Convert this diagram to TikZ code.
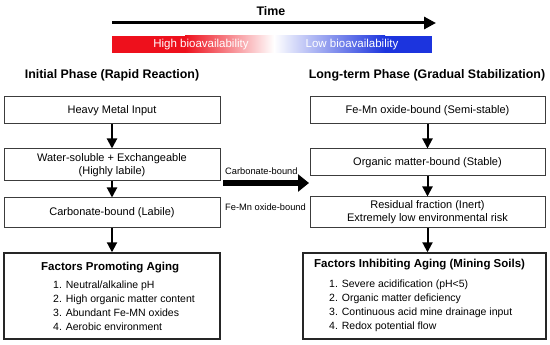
\documentclass[tikz,border=0pt]{standalone}
\usepackage{fontspec}
\setmainfont{Liberation Sans}
\usetikzlibrary{arrows.meta, positioning, calc}
\usepackage{xcolor}
\definecolor{highbio}{RGB}{238,16,28}
\definecolor{lowbio}{RGB}{28,52,222}
\definecolor{boxline}{RGB}{60,60,60}

\begin{document}
\begin{tikzpicture}[x=1pt, y=-1pt,
    stage/.style={draw=boxline, line width=1pt, align=center, inner sep=0pt,
      font=\fontsize{11}{13}\selectfont},
    factorbox/.style={draw=black!85, line width=1.4pt, inner sep=0pt},
    phase/.style={font=\bfseries\fontsize{12.4}{14}\selectfont},
    factortitle/.style={anchor=west, font=\bfseries\fontsize{11.5}{13}\selectfont,
      text height=8.5pt, text depth=2.5pt, inner sep=0pt},
    factoritem/.style={anchor=west, font=\fontsize{10.5}{12}\selectfont,
      text height=7.8pt, text depth=2.3pt, inner sep=0pt},
    flow/.style={-{Triangle[length=10pt,width=10pt]}, line width=2pt},
    barlabel/.style={white, font=\fontsize{11.5}{13}\selectfont},
    shiftlabel/.style={anchor=west, font=\fontsize{9.3}{11}\selectfont, inner sep=0pt}]
  \useasboundingbox (0,0) rectangle (550,345);
  % Time axis
  \coordinate (tstart) at (112,23);
  \coordinate (tend) at (436,23);
  \draw[line width=3pt, -{Triangle[length=12pt,width=12pt]}] (tstart) -- (tend);
  \node[font=\bfseries\fontsize{12.4}{14}\selectfont] (time) at (271,11) {Time};
  % Bioavailability bar (solid ends, faded middle)
  \fill[highbio] (112,36) rectangle (185,53);
  \shade[left color=highbio, right color=white] (185,36) rectangle (274,53);
  \shade[left color=white, right color=lowbio] (274,36) rectangle (385,53);
  \fill[lowbio] (385,36) rectangle (432,53);
  \node[barlabel] (high) at (201,45) {High bioavailability};
  \node[barlabel] (low) at (352,45) {Low bioavailability};
  % Phase titles
  \node[phase] (initial) at (112,75) {Initial Phase (Rapid Reaction)};
  \node[phase] (longterm) at (427,75) {Long-term Phase (Gradual Stabilization)};
  % Initial phase column
  \node[stage, minimum width=216pt, minimum height=27pt] (input) at (112,110.5) {Heavy Metal Input};
  \node[stage, minimum width=216pt, minimum height=32pt] (labile) at (112,165) {Water-soluble + Exchangeable\\(Highly labile)};
  \node[stage, minimum width=216pt, minimum height=30pt] (carb) at (112,213) {Carbonate-bound (Labile)};
  \node[factorbox, minimum width=216pt, minimum height=86pt] (promote) at (112,296) {};
  \node[factortitle] (promtitle) at (41,267) {Factors Promoting Aging};
  \foreach \t [count=\i] in {{Neutral/alkaline pH}, {High organic matter content},
      {Abundant Fe-MN oxides}, {Aerobic environment}}
    \node[factoritem] (prom\i) at (53,272+14*\i) {\i. \t};
  % Long-term phase column
  \node[stage, minimum width=235pt, minimum height=27pt] (femn) at (427.5,110.5) {Fe-Mn oxide-bound (Semi-stable)};
  \node[stage, minimum width=235pt, minimum height=27pt] (organic) at (427.5,162.5) {Organic matter-bound (Stable)};
  \node[stage, minimum width=235pt, minimum height=31pt] (resid) at (427.5,212.5) {Residual fraction (Inert)\\Extremely low environmental risk};
  \node[factorbox, minimum width=243pt, minimum height=86pt] (inhibit) at (424.5,296) {};
  \node[factortitle] (inhtitle) at (314,265) {Factors Inhibiting Aging (Mining Soils)};
  \foreach \t [count=\i] in {{Severe acidification (pH<5)}, {Organic matter deficiency},
      {Continuous acid mine drainage input}, {Redox potential flow}}
    \node[factoritem] (inh\i) at (329,271+14*\i) {\i. \t};
  % Vertical arrows
  \draw[flow] (input) -- (labile);
  \draw[flow] (labile) -- (carb);
  \draw[flow] (carb) -- (promote);
  \draw[flow] (femn) -- (organic);
  \draw[flow] (organic) -- (resid);
  \draw[flow] (resid.south) -- (resid.south |- inhibit.north);
  % Transfer arrow between phases
  \coordinate (shiftstart) at (223,183);
  \coordinate (shiftend) at (309,183);
  \draw[line width=6pt, -{Triangle[length=11pt,width=17pt]}] (shiftstart) -- (shiftend);
  \node[shiftlabel] (carblabel) at (225,171) {Carbonate-bound};
  \node[shiftlabel] (femnlabel) at (225,207) {Fe-Mn oxide-bound};
\end{tikzpicture}
\end{document}
